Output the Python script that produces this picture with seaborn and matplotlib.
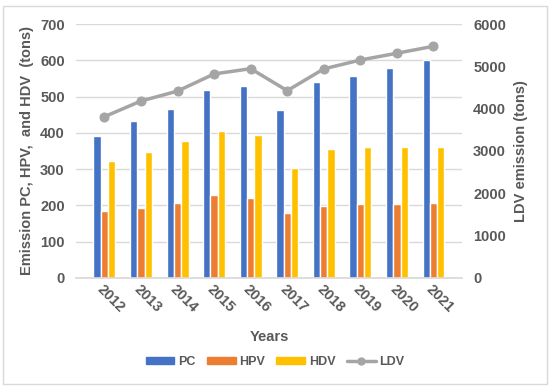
import matplotlib
matplotlib.use("Agg")
import matplotlib.pyplot as plt
import seaborn as sns
import pandas as pd
from matplotlib.lines import Line2D
from matplotlib.patches import Patch, Rectangle

# data
years = ["2012", "2013", "2014", "2015", "2016", "2017", "2018", "2019", "2020", "2021"]
pc = [390, 432, 466, 518, 528, 464, 540, 558, 580, 600]
hpv = [183, 192, 206, 229, 219, 178, 199, 203, 204, 206]
hdv = [323, 346, 377, 404, 393, 303, 354, 360, 360, 362]
ldv = [3810, 4180, 4415, 4820, 4945, 4425, 4940, 5150, 5310, 5475]

colors = {"PC": "#4472C4", "HPV": "#ED7D31", "HDV": "#FFC000"}
ldv_color = "#A5A5A5"
txt = "#595959"
fs = 10.5

sns.set_theme(style="white")
plt.rcParams["font.family"] = ["Liberation Sans", "DejaVu Sans"]
plt.rcParams["font.weight"] = "bold"

df = pd.DataFrame({"Year": years * 3,
                   "Value": pc + hpv + hdv,
                   "Type": ["PC"] * 10 + ["HPV"] * 10 + ["HDV"] * 10})

fig = plt.figure(figsize=(5.5, 3.88), dpi=100)
# light outer frame like the exported chart
fig.patches.append(Rectangle((0.005, 0.01), 0.99, 0.975, transform=fig.transFigure,
                             fill=False, edgecolor="#D9D9D9", linewidth=1))
ax = fig.add_axes([0.138, 0.284, 0.702, 0.654])

sns.barplot(data=df, x="Year", y="Value", hue="Type", palette=colors, ax=ax,
            width=0.6, gap=0, legend=False, saturation=1)
ax.set_ylim(0, 700)
ax.set_yticks(range(0, 701, 100))
ax.yaxis.grid(True, color="#D9D9D9", linewidth=1)
ax.set_axisbelow(True)
for s in ["top", "right", "left"]:
    ax.spines[s].set_visible(False)
ax.spines["bottom"].set_color("#D9D9D9")
ax.tick_params(axis="both", length=0, labelsize=fs, colors=txt)
ax.tick_params(axis="y", pad=8)
ax.set_xticks(range(len(years)))
ax.set_xticklabels(years, rotation=-45, ha="left", rotation_mode="anchor", fontweight="bold")
for lab in ax.get_yticklabels():
    lab.set_fontweight("bold")
ax.set_xlabel("Years", fontsize=fs, color=txt, fontweight="bold", labelpad=10)
ax.set_ylabel("Emission PC, HPV,  and HDV  (tons)", fontsize=fs, color=txt, fontweight="bold",
              labelpad=4)

ax2 = ax.twinx()
sns.lineplot(x=list(range(len(years))), y=ldv, ax=ax2, color=ldv_color, linewidth=2.5,
             marker="o", markersize=6.5, markeredgecolor=ldv_color)
ax2.set_ylim(0, 6000)
ax2.set_yticks(range(0, 6001, 1000))
for s in ["top", "right", "left", "bottom"]:
    ax2.spines[s].set_visible(False)
ax2.tick_params(axis="y", length=0, labelsize=fs, colors=txt, pad=8)
for lab in ax2.get_yticklabels():
    lab.set_fontweight("bold")
ax2.set_ylabel("LDV emission (tons)", fontsize=fs, color=txt, fontweight="bold", labelpad=6)

handles = [Patch(color=colors["PC"], label="PC"),
           Patch(color=colors["HPV"], label="HPV"),
           Patch(color=colors["HDV"], label="HDV"),
           Line2D([], [], color=ldv_color, linewidth=2.5, marker="o", markersize=5, label="LDV")]
leg = fig.legend(handles=handles, loc="center", bbox_to_anchor=(0.5, 0.067), ncol=4,
                 frameon=False, fontsize=9, handlelength=2.3, handleheight=0.5,
                 columnspacing=0.9, handletextpad=0.3)
for t in leg.get_texts():
    t.set_color(txt)

fig.savefig("out.png", dpi=100)
